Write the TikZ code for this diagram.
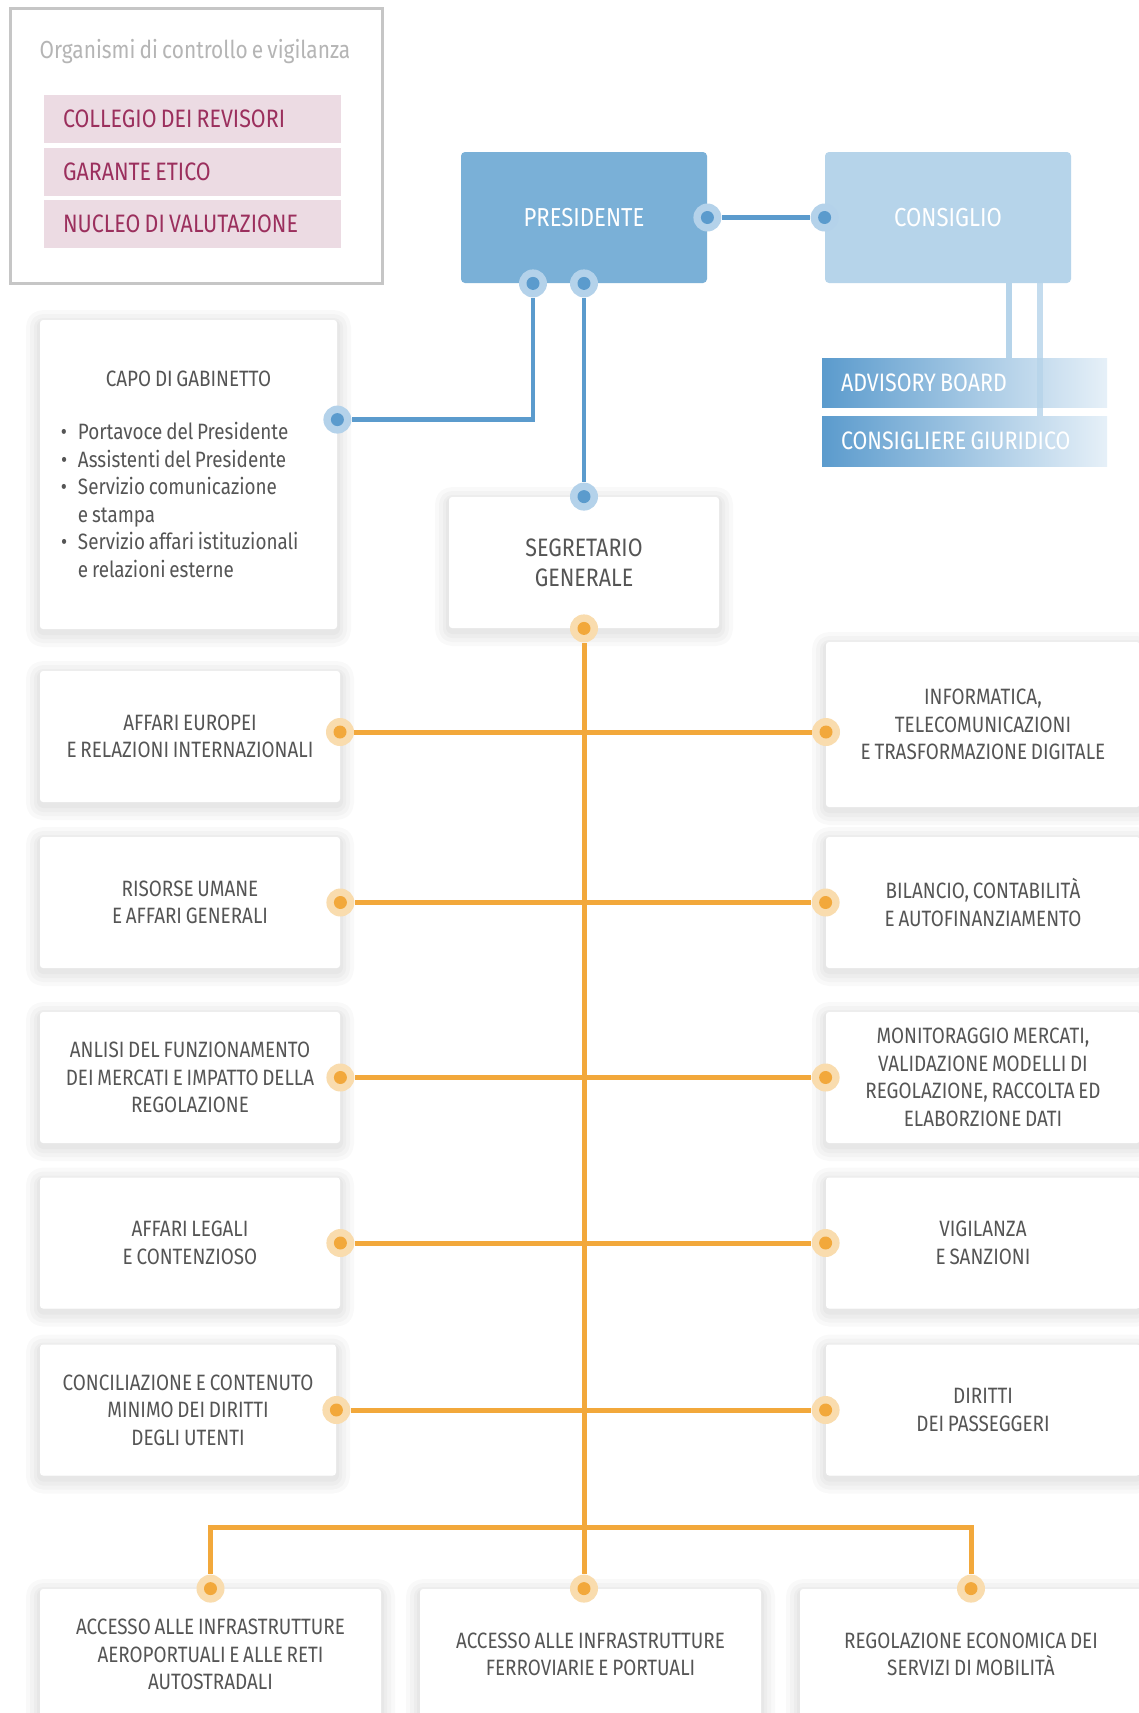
\documentclass[tikz,border=0pt]{standalone}
\usepackage{fontspec}
\setmainfont{Fira Sans}[FakeStretch=0.85, WordSpace=0.75]
\usetikzlibrary{calc}

\definecolor{ccblue}{RGB}{91,155,205}
\definecolor{ccbluehalo}{RGB}{180,210,234}
\definecolor{ccpres}{RGB}{122,176,215}
\definecolor{cccons}{RGB}{182,212,234}
\definecolor{ccadvlight}{RGB}{230,240,248}
\definecolor{ccorange}{RGB}{242,168,59}
\definecolor{ccorangehalo}{RGB}{249,220,174}
\definecolor{ccpink}{RGB}{236,219,227}
\definecolor{ccbordeaux}{RGB}{155,47,93}
\definecolor{ccgreyline}{RGB}{198,198,198}
\definecolor{cctitle}{RGB}{181,181,181}
\definecolor{cctext}{RGB}{85,85,85}

\begin{document}
\begin{tikzpicture}[x=0.5pt, y=-0.5pt,
  softshadow/.style={
    preaction={draw=black, draw opacity=0.022, line width=14pt, line join=round, transform canvas={yshift=-2pt}},
    preaction={draw=black, draw opacity=0.022, line width=10pt, line join=round, transform canvas={yshift=-2pt}},
    preaction={draw=black, draw opacity=0.022, line width=6pt, line join=round, transform canvas={yshift=-2pt}},
    preaction={draw=black, draw opacity=0.022, line width=3pt, line join=round, transform canvas={yshift=-1.5pt}}},
  plainspace/.style={execute at begin node={\spaceskip=0pt\xspaceskip=0pt}},
  whitebox/.style={softshadow, fill=white, minimum width=150pt, minimum height=65.5pt, inner sep=0pt,
    rounded corners=1.5pt, align=center, text=cctext, font=\fontsize{11.1}{13.75}\selectfont},
  pinkbox/.style={plainspace, fill=ccpink, text=ccbordeaux, minimum height=24pt, inner xsep=9.5pt,
    text width=129.5pt, align=left, font=\fontsize{12.6}{14}\selectfont},
  topbox/.style={minimum width=123pt, minimum height=65.5pt, rounded corners=2pt, text=white,
    font=\fontsize{13}{16}\selectfont},
  advbox/.style={plainspace, left color=ccblue, right color=ccadvlight, minimum height=24.5pt, inner xsep=9.5pt,
    text width=123.5pt, align=left, text=white, font=\fontsize{12.6}{14}\selectfont},
  bdot/.style={circle, fill=ccbluehalo, minimum size=14pt, inner sep=0pt,
    path picture={\fill[ccblue] (path picture bounding box.center) circle (3.25pt);}},
  odot/.style={circle, fill=ccorangehalo, minimum size=14pt, inner sep=0pt,
    path picture={\fill[ccorange] (path picture bounding box.center) circle (3.25pt);}},
  bline/.style={ccblue, line width=2.25pt},
  oline/.style={ccorange, line width=2.5pt},
  cline/.style={cccons, line width=3pt}]

  % Page
  \fill[white] (0,0) rectangle (1139,1713);
  \useasboundingbox (0,0) rectangle (1139,1713);

  % Organismi di controllo
  \node[draw=ccgreyline, line width=1.5pt, minimum width=186pt, minimum height=137.5pt, inner sep=0pt] (organismi) at (196,145.5) {};
  \node[text=cctitle, font=\fontsize{12.3}{14}\selectfont] (titolo) at (195,52) {Organismi di controllo e vigilanza};
  \node[pinkbox] (collegio) at (192.5,119) {COLLEGIO DEI REVISORI};
  \node[pinkbox] (garante) at (192.5,172) {GARANTE ETICO};
  \node[pinkbox] (nucleo) at (192.5,224) {NUCLEO DI VALUTAZIONE};

  % Presidente e consiglio
  \node[topbox, fill=ccpres] (presidente) at (584,217.5) {PRESIDENTE};
  \node[topbox, fill=cccons] (consiglio) at (948,217.5) {CONSIGLIO};
  \node[advbox] (advisory) at (964.5,382.5) {ADVISORY BOARD};
  \node[advbox, minimum height=25pt] (consigliere) at (964.5,441) {CONSIGLIERE GIURIDICO};
  \coordinate (cons1) at ($(consiglio.south)+(61,0)$);
  \coordinate (cons2) at ($(consiglio.south)+(92,0)$);
  \draw[cline] (cons1) -- (cons1 |- advisory.north);
  \draw[cline, opacity=0.8] (cons2) -- (cons2 |- consigliere.north);

  % Capo di gabinetto
  \node[whitebox, plainspace, minimum width=148.5pt, minimum height=154.5pt, text width=127.5pt, align=left] (capo) at (188.5,474.5)
    {\makebox[127.5pt][c]{CAPO DI GABINETTO}\\[12.75pt]
     \makebox[8.5pt][l]{\textbullet}Portavoce del Presidente\\
     \makebox[8.5pt][l]{\textbullet}Assistenti del Presidente\\
     \makebox[8.5pt][l]{\textbullet}Servizio comunicazione\\
     \hspace*{8.5pt}e stampa\\
     \makebox[8.5pt][l]{\textbullet}Servizio affari istituzionali\\
     \hspace*{8.5pt}e relazioni esterne};

  % Segretario generale
  \node[whitebox, minimum width=135pt, font=\fontsize{12.6}{15}\selectfont] (segretario) at (584,562.5) {SEGRETARIO\\GENERALE};

  % Direzioni a sinistra
  \node[whitebox] (europei) at (190,736.5) {AFFARI EUROPEI\\E RELAZIONI INTERNAZIONALI};
  \node[whitebox] (risorse) at (190,902.5) {RISORSE UMANE\\E AFFARI GENERALI};
  \node[whitebox] (anlisi) at (190,1077.5) {ANLISI DEL FUNZIONAMENTO\\DEI MERCATI E IMPATTO DELLA\\REGOLAZIONE};
  \node[whitebox] (legali) at (190,1243) {AFFARI LEGALI\\E CONTENZIOSO};
  \node[whitebox, minimum width=148pt] (conciliazione) at (188,1410) {CONCILIAZIONE E CONTENUTO\\MINIMO DEI DIRITTI\\DEGLI UTENTI};

  % Direzioni a destra
  \node[whitebox, minimum width=157pt, minimum height=82.5pt] (informatica) at (983,724.5) {INFORMATICA,\\TELECOMUNICAZIONI\\E TRASFORMAZIONE DIGITALE};
  \node[whitebox, minimum width=157pt] (bilancio) at (983,902.5) {BILANCIO, CONTABILITÀ\\E AUTOFINANZIAMENTO};
  \node[whitebox, minimum width=157pt] (monitoraggio) at (983,1077.5) {MONITORAGGIO MERCATI,\\VALIDAZIONE MODELLI DI\\REGOLAZIONE, RACCOLTA ED\\ELABORZIONE DATI};
  \node[whitebox, minimum width=157pt] (vigilanza) at (983,1243) {VIGILANZA\\E SANZIONI};
  \node[whitebox, minimum width=157pt] (diritti) at (983,1410) {DIRITTI\\DEI PASSEGGERI};

  % Direzioni in basso
  \node[whitebox, minimum width=170.5pt] (aero) at (210.5,1654.5) {ACCESSO ALLE INFRASTRUTTURE\\AEROPORTUALI E ALLE RETI\\AUTOSTRADALI};
  \node[whitebox, minimum width=170.5pt] (ferro) at (590.5,1654.5) {ACCESSO ALLE INFRASTRUTTURE\\FERROVIARIE E PORTUALI};
  \node[whitebox, minimum width=171pt] (mobilita) at (971,1654.5) {REGOLAZIONE ECONOMICA DEI\\SERVIZI DI MOBILITÀ};

  % Punti blu
  \node[bdot] (pres-e) at (presidente.east) {};
  \node[bdot] (cons-w) at (consiglio.west) {};
  \node[bdot] (pres-s1) at ($(presidente.south)+(-51,0)$) {};
  \node[bdot] (pres-s2) at (presidente.south) {};
  \node[bdot] (capo-e) at ($(capo.north east)+(0,100)$) {};
  \node[bdot] (segr-n) at (segretario.north) {};

  % Punti arancio
  \node[odot] (segr-s) at (segretario.south) {};
  \node[odot] (europei-d) at (340,732) {};
  \node[odot] (informatica-d) at (826,732) {};
  \node[odot] (risorse-d) at (risorse.east) {};
  \node[odot] (bilancio-d) at (bilancio.west) {};
  \node[odot] (anlisi-d) at (anlisi.east) {};
  \node[odot] (monitoraggio-d) at (monitoraggio.west) {};
  \node[odot] (legali-d) at (legali.east) {};
  \node[odot] (vigilanza-d) at (vigilanza.west) {};
  \node[odot] (conciliazione-d) at (conciliazione.east) {};
  \node[odot] (diritti-d) at (diritti.west) {};
  \node[odot] (aero-d) at (aero.north) {};
  \node[odot] (ferro-d) at (segretario.south |- ferro.north) {};
  \node[odot] (mobilita-d) at (mobilita.north) {};

  % Collegamenti blu
  \draw[bline] (pres-e) -- (cons-w);
  \draw[bline] (pres-s1) |- (capo-e);
  \draw[bline] (pres-s2) -- (segr-n);

  % Collegamenti arancio
  \coordinate (bar) at (584,1527);
  \draw[oline] (segr-s) -- (ferro-d);
  \draw[oline] (europei-d) -- (informatica-d);
  \draw[oline] (risorse-d) -- (bilancio-d);
  \draw[oline] (anlisi-d) -- (monitoraggio-d);
  \draw[oline] (legali-d) -- (vigilanza-d);
  \draw[oline] (conciliazione-d) -- (diritti-d);
  \draw[oline] (aero-d) -- (aero-d |- bar) -- (mobilita-d |- bar) -- (mobilita-d);

\end{tikzpicture}
\end{document}
